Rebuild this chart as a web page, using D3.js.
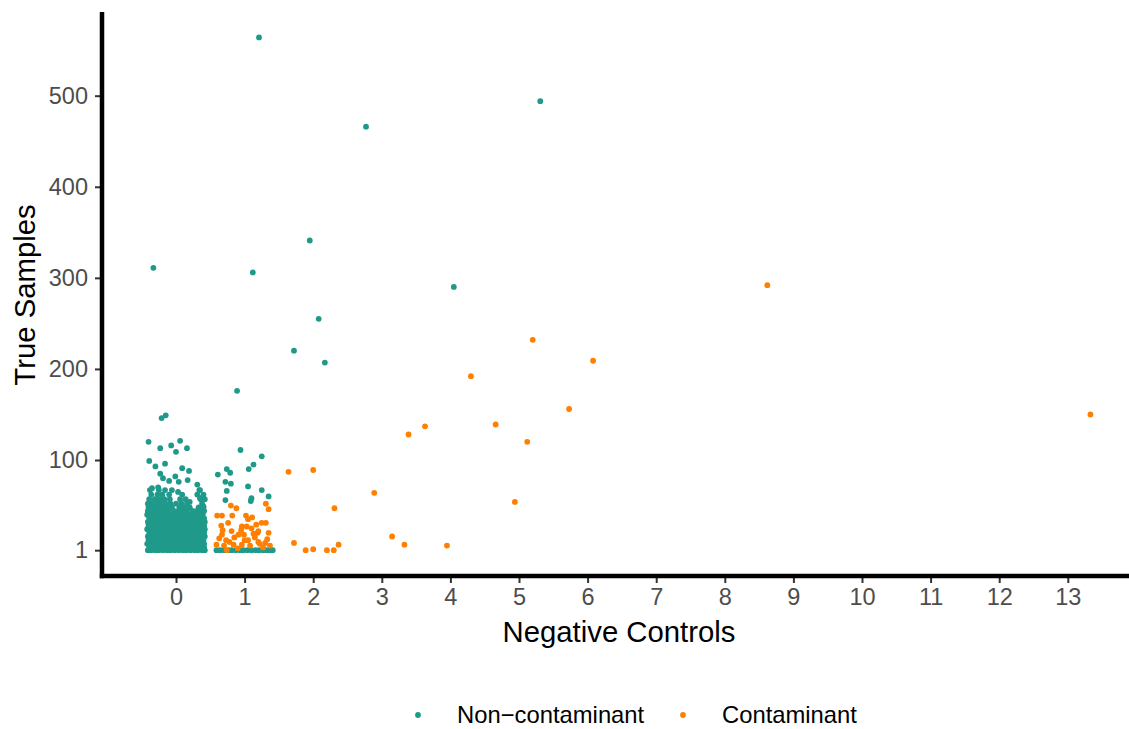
<!DOCTYPE html>
<html>
<head>
<meta charset="utf-8">
<script src="https://cdn.jsdelivr.net/npm/d3@7"></script>
<style>
  body { margin: 0; background: #fff; }
  svg { font-family: "Liberation Sans", Arial, sans-serif; }
</style>
</head>
<body>
<div id="chart"></div>
<script>
// tick labels
xTicks = [0, 1, 2, 3, 4, 5, 6, 7, 8, 9, 10, 11, 12, 13];
yTicks = [1, 100, 200, 300, 400, 500];
seriesNames = ["Non\u2212contaminant", "Contaminant"];

// [negative controls (jittered), true samples]
nonContaminant = [
  // dense block around 0
  [-0.41,1],[-0.36,1],[-0.3,1],[-0.25,1],[-0.19,1],[-0.13,1],[-0.08,1],[-0.02,1],[0.04,1],[0.1,1],[0.15,1],[0.21,1],[0.27,1],[0.32,1],[0.38,1],[0.42,1],
  [-0.39,4],[-0.33,4],[-0.27,4],[-0.22,4],[-0.16,4],[-0.1,4],[-0.05,4],[0.01,4],[0.07,4],[0.12,4],[0.18,4],[0.24,4],[0.3,4],[0.35,4],[0.41,4],
  [-0.42,8],[-0.37,8],[-0.31,8],[-0.26,8],[-0.2,8],[-0.14,8],[-0.09,8],[-0.03,8],[0.03,8],[0.09,8],[0.14,8],[0.2,8],[0.26,8],[0.31,8],[0.37,8],[0.41,8],
  [-0.4,12],[-0.34,12],[-0.28,12],[-0.23,12],[-0.17,12],[-0.11,12],[-0.06,12],[0,12],[0.06,12],[0.11,12],[0.17,12],[0.23,12],[0.29,12],[0.34,12],[0.4,12],
  [-0.41,16],[-0.36,16],[-0.3,16],[-0.24,16],[-0.19,16],[-0.13,16],[-0.07,16],[-0.02,16],[0.04,16],[0.1,16],[0.16,16],[0.21,16],[0.27,16],[0.33,16],[0.38,16],[0.42,16],
  [-0.39,20],[-0.33,20],[-0.27,20],[-0.21,20],[-0.16,20],[-0.1,20],[-0.04,20],[0.02,20],[0.07,20],[0.13,20],[0.19,20],[0.25,20],[0.3,20],[0.36,20],[0.41,20],
  [-0.42,24],[-0.36,24],[-0.31,24],[-0.25,24],[-0.19,24],[-0.13,24],[-0.08,24],[-0.02,24],[0.04,24],[0.1,24],[0.15,24],[0.21,24],[0.27,24],[0.33,24],[0.38,24],[0.42,24],
  [-0.4,28],[-0.34,28],[-0.28,28],[-0.22,28],[-0.17,28],[-0.11,28],[-0.05,28],[0.01,28],[0.06,28],[0.12,28],[0.18,28],[0.24,28],[0.29,28],[0.35,28],[0.41,28],
  [-0.41,32],[-0.36,32],[-0.3,32],[-0.24,32],[-0.18,32],[-0.12,32],[-0.07,32],[-0.01,32],[0.05,32],[0.1,32],[0.16,32],[0.22,32],[0.28,32],[0.33,32],[0.39,32],[0.42,32],
  [-0.39,36],[-0.33,36],[-0.27,36],[-0.21,36],[-0.15,36],[-0.1,36],[-0.04,36],[0.02,36],[0.08,36],[0.13,36],[0.19,36],[0.25,36],[0.31,36],[0.36,36],[0.41,36],
  [-0.42,40],[-0.37,40],[-0.31,40],[-0.25,40],[-0.19,40],[-0.13,40],[-0.07,40],[-0.01,40],[0.05,40],[0.11,40],[0.17,40],[0.22,40],[0.28,40],[0.34,40],[0.39,40],
  [-0.41,44],[-0.35,44],[-0.29,44],[-0.23,44],[-0.17,44],[-0.11,44],[-0.03,44],[0.03,44],[0.09,44],[0.16,44],[0.24,44],[0.3,44],[0.36,44],[0.41,44],
  [-0.4,48],[-0.33,48],[-0.26,48],[-0.2,48],[-0.13,48],[-0.06,48],[0.05,48],[0.12,48],[0.2,48],[0.33,48],[0.4,48],
  [-0.41,52],[-0.35,52],[-0.28,52],[-0.22,52],[-0.15,52],[-0.08,52],[0,52],[0.08,52],[0.16,52],[0.38,52],
  [-0.39,57],[-0.31,57],[-0.24,57],[-0.17,57],[-0.09,57],[0.06,57],[0.14,57],[0.36,57],[0.42,57],
  [-0.36,62],[-0.27,62],[-0.2,62],[-0.1,62],[0.09,62],[0.31,62],[0.4,62],
  [-0.38,67],[-0.25,67],[-0.06,67],[0.34,67],
  // scattered above the block
  [-0.21,146],[-0.15,149],[-0.4,120],[-0.23,113],[-0.07,116],[0.06,121],[0,109],[0.16,113],
  [-0.39,99],[-0.3,93],[-0.16,96],[0.09,91],[-0.23,85],[-0.19,80],[-0.1,77],[-0.01,82],
  [0.19,88],[0.17,78],[0.04,76],[0.31,73],[0.35,67],[-0.35,69],[-0.26,70],[-0.16,67],
  [0.03,65],[0.35,58],[0.4,49],[0.2,54],[0.39,59],
  // around 1
  [0.59,1],[0.64,1],[0.7,1],[0.76,1],[0.81,1],[0.87,1],[0.93,1],[0.98,1],[1.04,1],[1.1,1],[1.16,1],[1.21,1],[1.27,1],[1.32,1],[1.37,1],[1.41,1],
  [0.61,84],[0.74,90],[0.79,86],[0.72,76],[0.8,74],[0.74,66],[0.72,56],[0.94,111],
  [1.13,95],[1.06,90],[1.25,104],[1.05,71],[1.25,67],[1.35,60],[1.1,58],[1.09,55],
  // outliers
  [1.21,564],[5.31,494],[2.77,466],[1.95,341],[1.12,306],[-0.33,311],[4.05,290],
  [2.08,255],[1.72,220],[2.17,207],[0.89,176]
];

contaminant = [
  // around 1
  [0.6,39],[0.67,39],[0.82,39],[0.8,50],[0.88,47],[1.02,39],[1.11,37],[1.05,35],
  [1.31,52],[1.35,46],[1.25,31],[1.31,31],[0.66,28],[0.68,23],[0.81,22],[0.96,27],
  [1.03,27],[1.1,25],[1.2,22],[1.19,20],[1.35,20],[0.67,18],[0.91,18],[0.99,18],
  [0.73,12],[0.85,15],[1.05,12],[1.2,10],[1.33,13],[0.59,7],[0.7,6],[0.84,7],
  [0.96,7],[1.08,6],[1.22,8],[0.74,1],[1.37,6],[1.3,9],[0.63,14],[0.78,10],
  [0.9,3],[1.0,12],[1.15,15],[1.27,4],[0.95,23],[1.13,19],[0.76,31],[1.17,29],
  // further out
  [1.64,87],[2.0,89],[2.89,64],[2.31,47],[3.39,128],[3.63,137],[1.72,9],[1.89,1],
  [2.0,2],[2.2,1],[2.3,1],[2.37,7],[3.15,16],[3.33,7],[3.95,6],[8.62,292],
  [13.33,150],[6.08,209],[5.2,232],[4.3,192],[5.73,156],[4.66,139],[5.12,120],[4.94,54]
];

colors = ["#1f9a8a", "#ff7f00"];

let svg = d3.select('#chart')
    .append('svg')
    .attr('width', 1129)
    .attr('height', 729);

let x = d3.scaleLinear()
    .domain([0, 13])
    .range([176, 1067.8]);

let y = d3.scaleLinear()
    .domain([100, 500])
    .range([460, 95.7]);

// points
svg.append('g').selectAll('circle')
    .data(nonContaminant)
    .enter().append('circle')
    .attr('cx', d => x(d[0]))
    .attr('cy', d => y(d[1]))
    .attr('r', 2.9)
    .style('fill', colors[0]);

svg.append('g').selectAll('circle')
    .data(contaminant)
    .enter().append('circle')
    .attr('cx', d => x(d[0]))
    .attr('cy', d => y(d[1]))
    .attr('r', 2.9)
    .style('fill', colors[1]);

// x axis
let xAxis = svg.append('g')
    .attr('transform', 'translate(0,576)')
    .call(d3.axisBottom(x).tickValues(xTicks).tickSize(7).tickPadding(5));
xAxis.select('.domain').remove();
xAxis.selectAll('line').attr('stroke', '#333').attr('stroke-width', 2);
xAxis.selectAll('text').attr('fill', '#4d4d4d').style('font-size', '23.5px');

// y axis
let yAxis = svg.append('g')
    .attr('transform', 'translate(102,0)')
    .call(d3.axisLeft(y).tickValues(yTicks).tickSize(7).tickPadding(7));
yAxis.select('.domain').remove();
yAxis.selectAll('line').attr('stroke', '#333').attr('stroke-width', 2);
yAxis.selectAll('text').attr('fill', '#4d4d4d').style('font-size', '23.5px');

// axis lines
svg.append('line')
    .attr('x1', 99.8).attr('x2', 1129)
    .attr('y1', 576).attr('y2', 576)
    .attr('stroke', '#000').attr('stroke-width', 4.5);
svg.append('line')
    .attr('x1', 102).attr('x2', 102)
    .attr('y1', 12).attr('y2', 578.2)
    .attr('stroke', '#000').attr('stroke-width', 4.5);

// axis titles
svg.append('text')
    .attr('x', 619)
    .attr('y', 642)
    .attr('text-anchor', 'middle')
    .style('font-size', '29.3px')
    .text('Negative Controls');

svg.append('text')
    .attr('transform', 'translate(35,295) rotate(-90)')
    .attr('text-anchor', 'middle')
    .style('font-size', '29.3px')
    .text('True Samples');

// legend
let legendX = [418, 683];
let legend = svg.append('g');
seriesNames.forEach(function(name, i) {
    legend.append('circle')
        .attr('cx', legendX[i])
        .attr('cy', 715)
        .attr('r', 2.9)
        .style('fill', colors[i]);
    legend.append('text')
        .attr('x', legendX[i] + 39)
        .attr('y', 723)
        .style('font-size', '23.8px')
        .text(name);
});
</script>
</body>
</html>
